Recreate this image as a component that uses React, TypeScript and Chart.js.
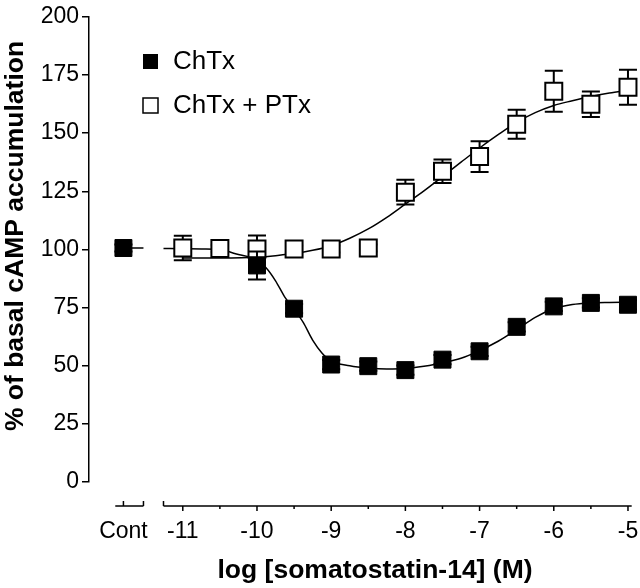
import React, { useEffect, useRef } from 'react';
import { Chart, registerables } from 'chart.js';

Chart.register(...registerables);

// ---- data ----
const contPosition = -11.8;
const xTickValues = [-11.8, -11, -10, -9, -8, -7, -6, -5];
const xTickLabels = ['Cont', '-11', '-10', '-9', '-8', '-7', '-6', '-5'];
const minorTickValues = [-10.5, -9.5, -8.5, -7.5, -6.5, -5.5];

// ChTx (filled squares)
const chtxX = [-11.8, -10, -9.5, -9, -8.5, -8, -7.5, -7, -6.5, -6, -5.5, -5];
const chtxMean = [100.6, 93.1, 74.5, 50.5, 49.8, 48.1, 52.6, 56.2, 66.7, 75.5, 77.0, 76.2];
const chtxSem = [1.5, 6.0, 2.0, 2.0, 2.0, 2.0, 2.0, 2.0, 2.0, 2.0, 2.0, 2.0];

// ChTx + PTx (open squares)
const ptxX = [-11, -10.5, -10, -9.5, -9, -8.5, -8, -7.5, -7, -6.5, -6, -5.5, -5];
const ptxMean = [100.6, 100.4, 100.2, 100.2, 100.2, 100.6, 124.6, 133.6, 139.9, 153.8, 168.0, 162.4, 169.7];
const ptxSem = [5.3, 1.5, 5.8, 1.5, 1.5, 1.5, 5.3, 5.0, 6.6, 6.2, 8.8, 5.5, 7.5];

// fitted curves
const chtxFitX = [-11.8, -11.53, -11.4, -11.26, -11, -10.75, -10.5, -10.25, -10, -9.875, -9.75, -9.625, -9.5, -9.375, -9.25, -9.125, -9, -8.75, -8.5, -8.25, -8, -7.75, -7.5, -7.25, -7, -6.75, -6.5, -6.25, -6, -5.75, -5.5, -5.25, -5];
const chtxFitY = [100.6, 100.6, null, 100.4, 100.3, 100.2, 99.8, 97.8, 95.5, 92.0, 86.5, 79.5, 74.3, 68.5, 61.0, 55.5, 52.0, 50.0, 49.0, 48.6, 48.8, 49.8, 51.2, 53.2, 56.5, 60.5, 65.5, 70.8, 74.5, 76.3, 77.0, 77.2, 77.3];

const ptxFitX = [-11, -10.5, -10, -9.75, -9.5, -9.25, -9, -8.75, -8.5, -8.25, -8, -7.75, -7.5, -7.25, -7, -6.75, -6.5, -6.25, -6, -5.75, -5.5, -5.25, -5];
const ptxFitY = [96.3, 96.3, 96.6, 97.3, 98.2, 99.6, 101.6, 104.8, 108.8, 113.8, 119.5, 125.2, 131.3, 137.5, 143.6, 149.3, 154.6, 158.8, 161.9, 163.9, 165.7, 167.2, 168.3];

const seriesLabels = ['ChTx', 'ChTx + PTx'];
const yAxisTitle = '% of basal cAMP accumulation';
const xAxisTitle = 'log [somatostatin-14] (M)';

const FONT = "'Liberation Sans', Arial, Helvetica, sans-serif";

const toPoints = (xs: number[], ys: (number | null)[]) => xs.map((x, i) => ({ x, y: ys[i] }));

const errorBars: Record<string, { xs: number[]; m: number[]; e: number[] }> = {
  chtxPts: { xs: chtxX, m: chtxMean, e: chtxSem },
  ptxPts: { xs: ptxX, m: ptxMean, e: ptxSem },
};

const customPlugin = {
  id: 'customDecor',
  beforeDatasetDraw(chart: any, args: any) {
    const ds = chart.data.datasets[args.index];
    const eb = errorBars[ds.id];
    if (!eb) return;
    const { ctx, scales } = chart;
    const xs = scales.x, ys = scales.y;
    ctx.save();
    ctx.strokeStyle = '#000';
    ctx.lineWidth = 2;
    const cap = 9;
    eb.xs.forEach((xv, i) => {
      const px = xs.getPixelForValue(xv);
      const top = ys.getPixelForValue(eb.m[i] + eb.e[i]);
      const bot = ys.getPixelForValue(eb.m[i] - eb.e[i]);
      ctx.beginPath();
      ctx.moveTo(px, top); ctx.lineTo(px, bot);
      ctx.moveTo(px - cap, top); ctx.lineTo(px + cap, top);
      ctx.moveTo(px - cap, bot); ctx.lineTo(px + cap, bot);
      ctx.stroke();
    });
    ctx.restore();
  },
  afterDraw(chart: any) {
    const { ctx, scales, chartArea } = chart;
    const xs = scales.x;
    const axisY = chartArea.bottom + 24;
    ctx.save();
    ctx.strokeStyle = '#000';
    ctx.lineWidth = 1.5;
    const px = (v: number) => xs.getPixelForValue(v);
    ctx.beginPath();
    ctx.moveTo(px(-11.91), axisY); ctx.lineTo(px(-11.53), axisY);
    ctx.moveTo(px(-11.26), axisY); ctx.lineTo(px(-4.95), axisY);
    [contPosition, -11.53, -11.26].forEach((v) => {
      ctx.moveTo(px(v), axisY - 5); ctx.lineTo(px(v), axisY);
    });
    xTickValues.slice(1).forEach((v) => {
      ctx.moveTo(px(v), axisY); ctx.lineTo(px(v), axisY + 5);
    });
    minorTickValues.forEach((v) => {
      ctx.moveTo(px(v), axisY); ctx.lineTo(px(v), axisY + 3);
    });
    ctx.stroke();

    // axis titles
    ctx.fillStyle = '#000';
    ctx.font = `bold 26.5px ${FONT}`;
    ctx.textAlign = 'center';
    ctx.textBaseline = 'middle';
    ctx.fillText(xAxisTitle, 375, 571);
    ctx.save();
    ctx.translate(16, 236);
    ctx.rotate(-Math.PI / 2);
    ctx.fillText(yAxisTitle, 0, 0);
    ctx.restore();

    // legend
    ctx.font = `26px ${FONT}`;
    ctx.textAlign = 'left';
    ctx.fillStyle = '#000';
    ctx.fillRect(143, 54, 15, 15);
    ctx.fillText(seriesLabels[0], 173, 62);
    ctx.lineWidth = 1.5;
    ctx.fillStyle = '#fff';
    ctx.fillRect(143, 98, 15, 15);
    ctx.strokeRect(143, 98, 15, 15);
    ctx.fillStyle = '#000';
    ctx.fillText(seriesLabels[1], 173, 106);
    ctx.restore();
  },
};

export default function App() {
  const canvasRef = useRef<HTMLCanvasElement | null>(null);

  useEffect(() => {
    document.body.style.margin = '0';
    const canvas = canvasRef.current;
    if (!canvas) return;
    Chart.defaults.font.family = FONT;
    Chart.defaults.color = '#000';

    const chart = new Chart(canvas, {
      type: 'line',
      data: {
        datasets: [
          {
            id: 'chtxFit',
            data: toPoints(chtxFitX, chtxFitY),
            borderColor: '#000',
            borderWidth: 1.5,
            pointRadius: 0,
            cubicInterpolationMode: 'monotone',
            spanGaps: false,
            fill: false,
            order: 4,
          } as any,
          {
            id: 'ptxFit',
            data: toPoints(ptxFitX, ptxFitY),
            borderColor: '#000',
            borderWidth: 1.5,
            pointRadius: 0,
            cubicInterpolationMode: 'monotone',
            fill: false,
            order: 3,
          } as any,
          {
            id: 'ptxPts',
            label: seriesLabels[1],
            data: toPoints(ptxX, ptxMean),
            showLine: false,
            pointStyle: 'rect',
            pointRadius: 12,
            pointBorderWidth: 2,
            pointBorderColor: '#000',
            pointBackgroundColor: '#fff',
            clip: false,
            order: 2,
          } as any,
          {
            id: 'chtxPts',
            label: seriesLabels[0],
            data: toPoints(chtxX, chtxMean),
            showLine: false,
            pointStyle: 'rect',
            pointRadius: 12,
            pointBorderWidth: 1,
            pointBorderColor: '#000',
            pointBackgroundColor: '#000',
            clip: false,
            order: 1,
          } as any,
        ],
      },
      options: {
        animation: false,
        responsive: false,
        events: [],
        layout: { autoPadding: false, padding: { top: 16, left: 0, right: 0, bottom: 0 } },
        plugins: { legend: { display: false }, tooltip: { enabled: false } },
        scales: {
          x: {
            type: 'linear',
            min: -12.264,
            max: -4.838,
            border: { display: false },
            grid: { display: false, drawTicks: false },
            afterFit: (s: any) => { s.height = 106; s.paddingLeft = 0; s.paddingRight = 0; },
            afterBuildTicks: (s: any) => { s.ticks = xTickValues.map((v) => ({ value: v })); },
            ticks: {
              autoSkip: false,
              maxRotation: 0,
              minRotation: 0,
              padding: 36,
              font: { size: 23 },
              color: '#000',
              callback: (v: any) => {
                const i = xTickValues.indexOf(Number(v));
                return i >= 0 ? xTickLabels[i] : '';
              },
            },
          },
          y: {
            type: 'linear',
            min: 0,
            max: 200,
            border: { display: true, color: '#000', width: 1.5 },
            grid: { display: true, drawOnChartArea: false, drawTicks: true, tickLength: 7, color: '#000', lineWidth: 1.5 },
            afterFit: (s: any) => { s.width = 89; },
            ticks: { stepSize: 25, padding: 3, font: { size: 23 }, color: '#000' },
          },
        },
      },
      plugins: [customPlugin],
    });
    return () => chart.destroy();
  }, []);

  return (
    <div style={{ position: 'absolute', left: 0, top: 0, width: 640, height: 588, background: '#fff' }}>
      <canvas ref={canvasRef} width={640} height={588} style={{ display: 'block' }} />
    </div>
  );
}
